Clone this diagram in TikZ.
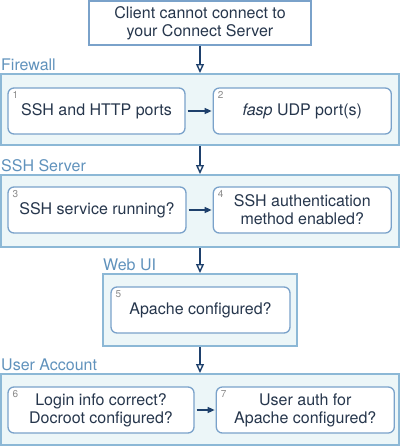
\documentclass[tikz,border=0pt]{standalone}
\usepackage{fontspec}
\setmainfont{TeX Gyre Heros}
\usetikzlibrary{positioning,arrows.meta}

\definecolor{frameblue}{RGB}{140,184,214}
\definecolor{boxblue}{RGB}{122,162,202}
\definecolor{groupfill}{RGB}{236,246,248}
\definecolor{labelblue}{RGB}{96,146,188}
\definecolor{textnavy}{RGB}{38,54,76}
\definecolor{arrownavy}{RGB}{30,64,108}

\begin{document}
\begin{tikzpicture}[x=1pt,y=1pt]
    \tikzstyle{start} = [shape=rectangle, draw=boxblue, fill=white, line width=1.4pt,
        minimum width=222pt, minimum height=44pt, align=center, text=textnavy,
        font=\fontsize{16}{18}\selectfont, inner sep=0pt]
    \tikzstyle{group} = [shape=rectangle, draw=frameblue, fill=groupfill, line width=2pt,
        minimum height=71pt, inner sep=0pt]
    \tikzstyle{item} = [shape=rectangle, rounded corners=6pt, draw=boxblue, fill=white,
        line width=1.3pt, minimum height=46pt, align=center, text=textnavy,
        font=\fontsize{16}{18}\selectfont, inner sep=0pt]
    \tikzstyle{grouplabel} = [anchor=base west, text=labelblue, inner sep=0pt,
        font=\fontsize{16}{18}\selectfont]
    \tikzstyle{num} = [anchor=north west, text=black!45, inner sep=0pt,
        font=\fontsize{10}{12}\selectfont]
    \tikzstyle{nextline} = [-{Triangle[open, length=9pt, width=8pt]}, draw=arrownavy, line width=1.4pt]
    \tikzstyle{stepline} = [-{Triangle[length=7pt, width=6pt]}, draw=arrownavy, line width=1.4pt,
        shorten <=2pt, shorten >=1pt]

    \useasboundingbox (0,0) rectangle (400,-447);

    \node (client) [start] at (200,-23) {Client cannot connect to\\your Connect Server};

    % groups
    \node (fw)   [group, minimum width=398pt] at (200,-109.5) {};
    \node (ssh)  [group, minimum width=398pt, minimum height=72pt] at (200,-211) {};
    \node (web)  [group, minimum width=194pt, minimum height=72pt] at (200,-310) {};
    \node (user) [group, minimum width=398pt] at (200,-409.5) {};

    \node (fwl)   [grouplabel] at ([shift={(1,3)}]fw.north west)   {Firewall};
    \node (sshl)  [grouplabel] at ([shift={(1,3)}]ssh.north west)  {SSH Server};
    \node (webl)  [grouplabel] at ([shift={(1,3)}]web.north west)  {Web UI};
    \node (userl) [grouplabel] at ([shift={(1,3)}]user.north west) {User Account};

    % steps
    \node (s1) [item, minimum width=177pt] at (96.5,-111) {SSH and HTTP ports};
    \node (s2) [item, minimum width=178pt, right=27pt of s1] {\textit{fasp} UDP port(s)};
    \node (s3) [item, minimum width=178pt] at (97,-210) {SSH service running?};
    \node (s4) [item, minimum width=178pt, right=26pt of s3] {SSH authentication\\method enabled?};
    \node (s5) [item, minimum width=179pt] at (200.5,-310) {Apache configured?};
    \node (s6) [item, minimum width=186pt] at (101,-410) {Login info correct?\\Docroot configured?};
    \node (s7) [item, minimum width=178pt, right=21pt of s6] {User auth for\\Apache configured?};

    \node (n1) [num] at ([shift={(5,-4)}]s1.north west) {1};
    \node (n2) [num] at ([shift={(5,-4)}]s2.north west) {2};
    \node (n3) [num] at ([shift={(5,-4)}]s3.north west) {3};
    \node (n4) [num] at ([shift={(5,-4)}]s4.north west) {4};
    \node (n5) [num] at ([shift={(5,-4)}]s5.north west) {5};
    \node (n6) [num] at ([shift={(5,-4)}]s6.north west) {6};
    \node (n7) [num] at ([shift={(5,-4)}]s7.north west) {7};

    % connectors
    \draw [nextline] (client) -- (fw);
    \draw [nextline] (fw) -- (ssh);
    \draw [nextline] (ssh) -- (web);
    \draw [nextline] (web) -- (user);
    \draw [stepline] (s1) -- (s2);
    \draw [stepline] (s3) -- (s4);
    \draw [stepline] (s6) -- (s7);
\end{tikzpicture}
\end{document}
